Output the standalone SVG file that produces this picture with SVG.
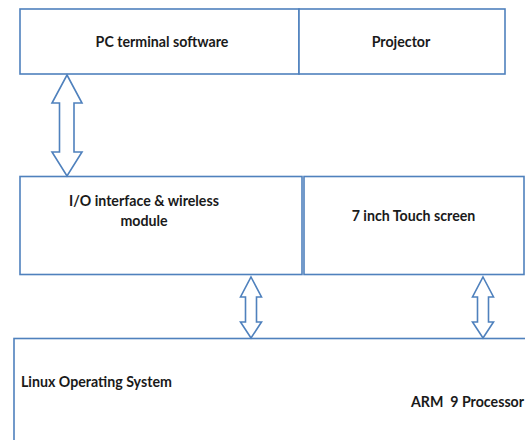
<svg xmlns="http://www.w3.org/2000/svg" width="525" height="440" viewBox="0 0 525 440">
  <style>
    .box { fill: #ffffff; stroke: #4f81bd; stroke-width: 1.6; }
    .arrow { fill: #ffffff; stroke: #4f81bd; stroke-width: 1.6; stroke-linejoin: miter; }
    .lbl { font-family: Lato, "Liberation Sans", sans-serif; font-weight: bold; font-size: 14.2px; fill: #1a1a1a; }
    .mid { text-anchor: middle; }
  </style>
  <rect width="525" height="440" fill="#ffffff"/>

  <g id="pc-software">
    <rect class="box" x="20" y="9" width="279" height="65"/>
    <text class="lbl mid" x="162" y="47">PC terminal software</text>
  </g>
  <g id="projector">
    <rect class="box" x="299" y="9" width="206" height="65"/>
    <text class="lbl mid" x="401" y="47">Projector</text>
  </g>

  <g id="io-wireless">
    <rect class="box" x="20" y="176.5" width="282" height="98"/>
    <text class="lbl mid" x="144" y="206">I/O interface &amp; wireless</text>
    <text class="lbl mid" x="144" y="226">module</text>
  </g>
  <g id="touch-screen">
    <rect class="box" x="304" y="176.5" width="220" height="98"/>
    <text class="lbl mid" x="413.5" y="221">7 inch Touch screen</text>
  </g>

  <g id="arm-linux">
    <rect class="box" x="14" y="338.5" width="520" height="120"/>
    <text class="lbl" x="21" y="387">Linux Operating System</text>
    <text class="lbl" x="411" y="407" xml:space="preserve">ARM  9 Processor</text>
  </g>

  <g id="connectors">
    <!-- double-headed block arrows -->
    <polygon class="arrow" points="67,75 82,103 74,103 74,152 82,152 67,176 52,152 59.5,152 59.5,103 52,103"/>
    <polygon class="arrow" points="251,277 261.5,297 256.5,297 256.5,322 261.5,322 251,338 240.5,322 245.5,322 245.5,297 240.5,297"/>
    <polygon class="arrow" points="483,277 493.5,297 488.5,297 488.5,322 493.5,322 483,338 472.5,322 477.5,322 477.5,297 472.5,297"/>
  </g>
</svg>
